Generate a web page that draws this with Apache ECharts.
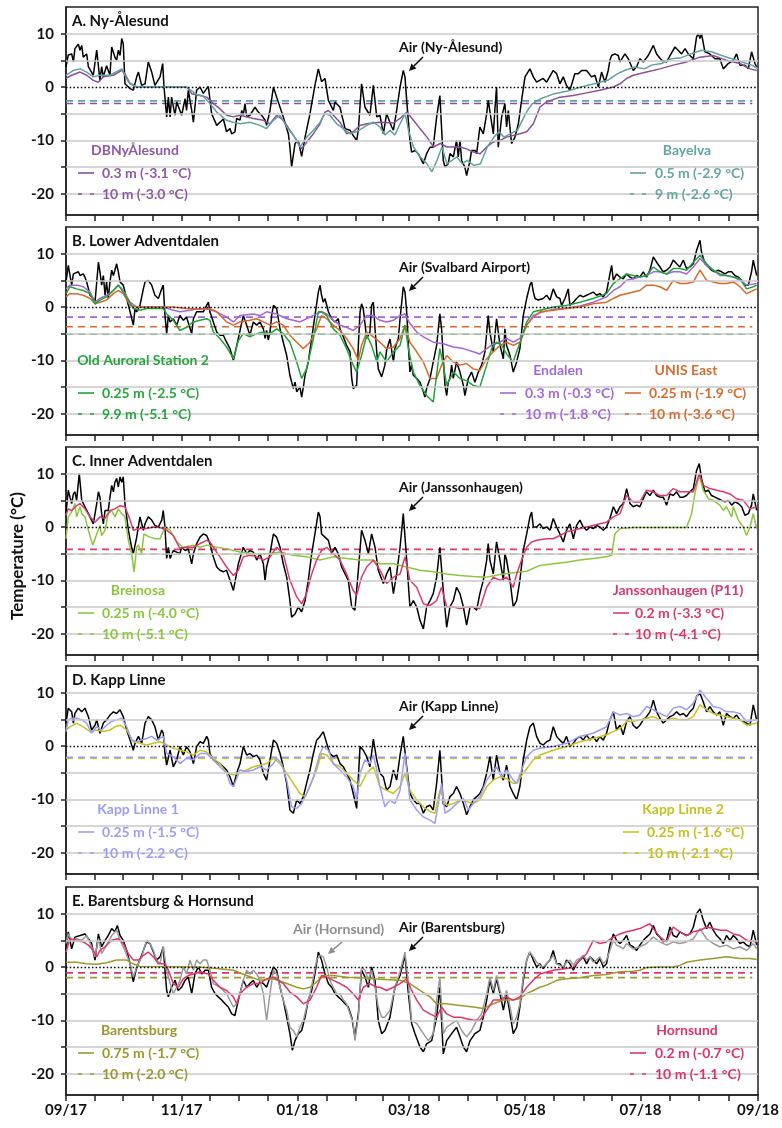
<!DOCTYPE html>
<html><head><meta charset="utf-8">
<script src="https://cdn.jsdelivr.net/npm/echarts@6/dist/echarts.min.js"></script>
<style>html,body{margin:0;padding:0;background:#fff}#c{width:782px;height:1128px}</style>
</head><body><div id="c"></div><script>
// ---------- axis data (days since 2017-09-01) ----------
const X_TICK_DAYS = [0,15,30,45.5,61,76,91,106.5,122,137.5,153,167,181,196.5,212,227,242,257.5,273,288,303,318.5,334,349.5,365];
const X_LABEL_DAYS = [0,61,122,181,242,303,365];
const X_LABELS = ['09/17','11/17','01/18','03/18','05/18','07/18','09/18'];
const Y_TICKS = [-20,-15,-10,-5,0,5,10];
const Y_LABELS = [-20,-10,0,10];
const GRID_LINES = [-20,-15,-10,-5,5,10];

// ---------- Panel A: Ny-Ålesund ----------
const airNyAlesund = [[0,3.8],[1.2,6.0],[3.0,6.2],[3.9,4.7],[4.7,7.2],[6.5,8.0],[7.4,6.9],[8.3,7.8],[9.1,5.6],[10.9,6.2],[11.8,3.8],[14.4,2.2],[16.2,6.9],[17.9,1.2],[18.8,3.8],[19.7,1.9],[21.4,4.0],[23.2,2.2],[24.1,7.5],[25.8,5.6],[26.7,5.0],[27.6,6.9],[28.5,5.9],[29.4,9.1],[30.2,8.1],[31.1,0.6],[33.8,-0.3],[35.5,-0.6],[37.3,1.9],[38.2,2.8],[39.9,0.3],[41.7,0.6],[43.4,4.7],[45.2,2.8],[46.9,0.3],[49.6,1.9],[51.0,4.4],[51.7,0],[53.1,-5.6],[54.0,-1.9],[54.9,-5.6],[55.7,-1.9],[57.5,-5.3],[58.4,-2.8],[61.0,-5.3],[62.8,-2.2],[63.6,-4.4],[64.5,-0.6],[66.3,-4.4],[67.2,-6.6],[68.9,-0.6],[70.7,0],[72.4,-1.2],[74.2,-0.3],[75.1,0.1],[76.8,-5],[79.5,-7.2],[81.2,-6.6],[83.0,-6],[84.7,-8.4],[86.5,-7.8],[87.4,-8.8],[89.1,-8.4],[90.0,-5.9],[91.8,-6.2],[92.7,-4.4],[93.5,-5.3],[94.4,-3.1],[95.3,-5.6],[97.0,-5.3],[99.7,-3.8],[101.4,-4.7],[103.2,-5.3],[105.0,-6.2],[105.8,-7.2],[107.6,-4.4],[109.4,0],[111.1,-1.9],[114.6,-5.6],[117.3,-8.8],[118.1,-11.3],[119.0,-15],[119.9,-15],[120.8,-10.6],[122.5,-10],[124.3,-13],[126.1,-9.4],[128.7,-5],[131.3,0.3],[133.1,3.4],[134.8,1.0],[136.6,1.6],[138.4,-2.5],[141.0,-4.4],[141.9,-2.8],[144.5,-3.8],[147.2,-7.8],[149.8,-8.1],[151.5,-9.1],[153.3,-10],[154.2,-8.1],[155.9,0.6],[157.7,-3.8],[160.3,-5.3],[162.1,0.3],[163.9,-5.6],[165.6,-5.3],[167.4,-8.8],[169.1,-5],[171.8,-7.5],[172.7,-8.1],[174.4,-4.4],[176.2,0],[177.9,3.1],[178.8,1.9],[179.7,-2.5],[181.4,-10],[182.3,-12.2],[184.1,-11.9],[185.8,-12.5],[188.5,-14.4],[190.2,-12.5],[192.0,-11.3],[193.7,-11.3],[195.5,-5.6],[197.2,-1.6],[199.0,-13.8],[199.9,-15],[201.6,-14.4],[202.5,-12.5],[204.3,-13.1],[206.0,-10],[206.9,-13.1],[207.8,-10],[208.7,-13.8],[210.4,-15],[211.3,-16.6],[213.1,-13.8],[213.9,-11.9],[215.7,-11.9],[216.6,-12.5],[218.3,-7.5],[220.1,-8.8],[221.9,-5],[222.7,-2.5],[225.4,-8.8],[226.3,-3.8],[227.1,0],[228.0,-11.3],[229.8,-5.6],[231.5,-3.1],[232.4,-7.5],[233.3,-4.4],[235.0,-10.6],[236.8,-9.4],[238.6,-6.9],[240.3,-2.5],[242.1,1.9],[244.7,3.4],[246.5,1.9],[248.2,0.9],[251.7,1.6],[253.5,0.9],[257.0,3.1],[258.8,2.5],[260.5,0.6],[262.3,1.9],[264.0,0.3],[265.8,-0.6],[268.4,2.5],[270.2,2.5],[272.0,3.1],[274.6,3.1],[277.2,1.9],[279.0,2.2],[280.8,0],[282.5,2.8],[284.3,0.9],[286.0,3.1],[286.9,5.0],[287.8,5.9],[289.5,6.2],[291.3,5.9],[292.2,4.7],[294.8,6.2],[296.6,5.3],[299.2,3.1],[301.0,3.8],[302.7,5.3],[304.5,4.7],[307.1,5.9],[309.8,7.8],[311.5,6.2],[314.2,5.0],[316.8,4.7],[318.6,5.9],[321.2,7.5],[322.9,6.9],[324.7,6.2],[326.5,7.2],[328.2,6.2],[330.9,5.3],[332.6,9.4],[333.5,10],[334.4,9.1],[335.2,10],[337.0,6.6],[339.6,6.2],[342.3,5.3],[344.9,5.3],[346.7,3.4],[349.3,4.4],[352.0,5.0],[353.7,6.2],[355.5,4.1],[358.1,4.1],[359.9,3.4],[361.6,6.6],[363.4,4.4],[364.3,3.8]];
const dbNy03 = [[0,1.6],[3,2.2],[7.4,2.8],[10.9,2.2],[14.4,1.25],[17,0.9],[19.7,1.9],[25,2.2],[29.4,3.1],[31.1,2.5],[33.8,0.6],[37.3,0],[41,0],[51.3,0],[63.6,0],[66.3,-1.25],[70.7,-1.6],[74.2,-1.9],[77.7,-3.1],[81.2,-4.1],[84.7,-5.3],[88.2,-5.6],[91.8,-5.3],[95.3,-5.6],[98.8,-5.9],[104.1,-6.25],[107.6,-6.9],[111.1,-5.3],[114.7,-6.25],[118.1,-8.1],[121.7,-10],[124.3,-11.6],[127,-10.3],[130.5,-8.75],[134,-6.9],[136.6,-4.7],[138.4,-4.4],[141,-5.3],[144.5,-6.6],[148,-8.75],[151.5,-8.4],[155.1,-7.2],[158.6,-6.9],[165.6,-6.6],[172.7,-6.75],[176.2,-5.9],[179.8,-4.7],[183.3,-6.25],[186.7,-7.8],[190.4,-9.4],[193.9,-11.25],[197.4,-10.6],[200.9,-11.25],[207.8,-11.25],[211.3,-11.6],[214.9,-12.2],[218.4,-12.5],[221.9,-11.25],[225.4,-10.3],[228.9,-10],[232.4,-9.4],[239.5,-8.75],[243,-8.4],[246.5,-6.9],[250,-3.75],[253.5,-2.8],[260.5,-1.9],[267.6,-1.6],[274.6,-1.1],[281.6,-0.6],[288.7,0],[292.2,0.6],[295.7,1.6],[299.2,2.2],[306.2,2.8],[313.3,3.4],[320.3,4.1],[327.3,4.7],[334.3,5.6],[341.4,5.9],[348.4,5.0],[355.4,4.4],[360.8,3.4],[364.3,3.1]];
const bayelva05 = [[0,2.2],[3.9,3.1],[7.4,3.4],[10.9,2.8],[14.4,1.9],[17.9,2.2],[23.2,2.2],[29.4,3.4],[32.9,0.9],[37.3,0],[51.3,0],[63.6,0],[65.4,-0.5],[68.9,-1.4],[72.4,-1.75],[75.9,-3.1],[79.5,-4.7],[84.7,-6.25],[88.2,-6.6],[91.8,-6.9],[97,-6.6],[102.3,-7.2],[105.8,-7.8],[109.4,-6.25],[112.9,-5.3],[116.4,-7.5],[119.9,-9],[123.4,-11.25],[127,-9.4],[130.5,-8.1],[134,-6.6],[136.6,-5],[139.2,-5.3],[142.8,-6.9],[146.3,-7.8],[149.8,-8.75],[153.3,-8.4],[158.6,-7.2],[162.1,-6.6],[165.6,-7.5],[168.3,-9],[170.9,-8.1],[173.5,-9],[176.2,-6.9],[178.9,-5],[180.6,-8.1],[183.3,-11.25],[186.7,-13.1],[190.4,-14.4],[193,-15.9],[195.7,-13.75],[198.3,-11.25],[200.9,-14.4],[203.6,-13.75],[206.2,-13.1],[208.9,-14.4],[211.6,-13.75],[215.1,-14.7],[218.6,-14.4],[222.2,-11.25],[225.7,-9.4],[228.4,-8.4],[231,-9.4],[234.6,-8.75],[238.1,-8.1],[240.7,-6.25],[243.4,-4.4],[246,-3.1],[250.4,-2.2],[257.5,-1.25],[264.6,-0.75],[271.6,0],[278.7,0.6],[285.7,1.25],[291,2.5],[294.6,3.1],[299.9,3.75],[305.2,3.4],[308.8,4.1],[314.1,4.4],[319.3,5.3],[324.6,5.5],[329.9,6.25],[335.2,6.9],[340.5,6.6],[345.8,5.9],[351.1,5.3],[356.4,4.7],[361.7,4.1],[365,3.4]];
const dbNy10 = -3.1;
const bayelva9 = -2.6;

// ---------- Panel B: Lower Adventdalen ----------
const airSvalbard = [[0,4.7],[1.2,7.8],[2.1,7.5],[3.0,4.1],[3.9,6.2],[4.7,5.9],[6.5,6.6],[7.4,5.9],[9.1,6.2],[10.0,5.6],[10.9,4.7],[12.7,2.2],[14.4,1.6],[15.3,0.9],[17.1,8.4],[17.9,6.6],[18.8,4.1],[19.7,5.9],[20.6,2.2],[21.4,4.7],[22.3,1.6],[23.2,4.7],[24.1,6.9],[25.0,5.9],[25.8,6.9],[26.7,8.1],[27.6,6.6],[28.5,4.7],[30.2,4.1],[32.0,1.6],[33.8,-0.9],[35.5,-3.4],[36.4,-0.3],[37.3,-0.9],[39.0,0.3],[40.8,3.4],[41.7,4.7],[43.4,5.0],[45.2,4.1],[46.9,2.2],[48.7,1.6],[50.5,3.4],[51.3,4.1],[52.2,-1.6],[53.1,-5],[54.0,-1.6],[54.9,-2.8],[56.6,-2.2],[58.4,-3.4],[60.1,-1.6],[61.9,-2.5],[63.6,-1.9],[66.3,-5],[67.2,-2.2],[68.9,-0.9],[72.4,-0.9],[74.2,0.3],[75.1,0.9],[75.9,-0.9],[77.7,-2.8],[79.5,-4.7],[81.2,-5.3],[83.0,-5.3],[84.7,-6.6],[86.5,-7.8],[88.3,-10],[89.1,-10],[90.9,-5.9],[93.5,-1.6],[95.3,-3.4],[97.0,-5.3],[98.8,-2.8],[100.6,-3.4],[102.3,-2.8],[104.1,-4.1],[105.0,-5.9],[105.8,-4.4],[106.7,-6.2],[107.6,-4.7],[108.5,-1.6],[109.4,0.3],[111.1,-0.3],[112.9,-4.1],[114.6,-6.6],[116.4,-9.1],[118.1,-12.8],[119.9,-15.3],[120.8,-14.1],[121.7,-15.9],[123.4,-15],[124.3,-16.9],[125.2,-15],[126.1,-12.8],[127.8,-10.3],[129.6,-5.9],[131.3,-1.6],[133.1,2.8],[134.0,4.1],[134.8,2.2],[135.7,0.9],[136.6,1.6],[138.4,-0.9],[140.1,-2.2],[141.9,-2.8],[143.6,-2.2],[144.5,-4.1],[146.3,-5.6],[148.0,-7.2],[149.8,-8.4],[150.7,-13.4],[151.5,-15.3],[152.4,-15.6],[153.3,-14.7],[154.2,-7.2],[155.1,-0.9],[155.9,0.6],[156.8,-0.3],[158.6,-5.9],[160.3,-4.7],[161.2,0.3],[162.1,0.9],[163.0,-4.1],[163.9,-8.4],[164.7,-11.6],[166.5,-13.1],[168.2,-10.9],[169.1,-8.1],[170.9,-6],[172.7,-10.3],[173.5,-7.8],[175.3,-5.9],[176.2,-2.2],[177.9,3.8],[178.8,2.8],[179.7,-0.9],[180.6,-7.2],[181.4,-12.2],[182.3,-10.9],[183.2,-12.8],[185.0,-13.4],[186.7,-14.1],[188.5,-15.9],[189.3,-16.9],[190.2,-15.3],[192.0,-13.4],[193.7,-10.3],[195.5,-7.2],[197.2,-1.3],[198.1,-4.1],[199.0,-9.7],[199.9,-14.7],[200.8,-16.6],[201.6,-14.1],[202.5,-13.4],[203.4,-10.9],[204.3,-13.4],[206.0,-10.3],[207.8,-12.2],[209.6,-14.7],[210.4,-16.6],[211.3,-16.9],[212.2,-13.4],[213.9,-12.2],[215.7,-14.1],[217.5,-12.2],[219.2,-10.9],[221.0,-8.4],[222.7,-1.6],[223.6,-4.7],[225.4,-8.4],[227.1,-2.2],[228.0,-4.7],[228.9,-7.2],[230.7,-9.7],[231.5,-4.1],[232.4,-7.2],[234.2,-9.1],[235.9,-12.2],[237.7,-10.3],[239.4,-7.8],[241.2,-1.6],[243.0,1.6],[244.7,4.1],[245.6,4.7],[246.5,2.8],[247.4,1.6],[249.1,1.3],[251.7,1.6],[253.5,2.2],[255.3,1.3],[257.0,3.4],[258.8,1.9],[260.5,1.6],[261.4,0.3],[263.2,1.6],[264.9,3.4],[265.8,0.3],[267.6,0.9],[269.3,1.6],[271.1,2.2],[272.8,1.9],[274.6,2.2],[276.4,2.5],[278.1,2.8],[279.9,2.2],[281.6,2.5],[283.4,1.9],[285.1,2.8],[286.9,6.2],[287.8,7.8],[288.7,5.0],[290.4,6.2],[292.2,5.6],[293.9,5.3],[295.7,6.2],[297.5,5.6],[299.2,5.3],[301.0,5.9],[302.7,5.6],[304.5,6.6],[306.2,5.6],[308.0,6.9],[309.8,9.4],[311.5,8.4],[313.3,7.5],[315.0,6.6],[316.8,6.9],[318.6,7.5],[320.3,8.8],[322.1,8.1],[323.8,7.5],[325.6,8.8],[327.3,7.2],[329.1,7.5],[330.9,8.1],[332.6,10.6],[334.4,12.5],[335.2,10.3],[337.0,8.1],[338.8,7.5],[340.5,6.9],[342.3,6.6],[344.0,6.9],[345.8,6.6],[347.6,6.2],[349.3,6.6],[351.1,6.6],[352.8,5.9],[354.6,5.6],[356.4,5.0],[358.1,4.1],[359.9,4.1],[361.6,6.6],[362.5,8.8],[364.3,5.9]];
const oas025 = [[0,2.5],[2.1,3.8],[5.6,3.4],[9.1,3.1],[12.7,2.5],[15.3,0.6],[17.9,1.3],[21.4,1.9],[25.0,3.1],[27.6,4.1],[30.2,2.8],[32.9,1.3],[35.5,-0.3],[39.0,-0.6],[42.5,-0.3],[51.3,-0.3],[53.1,-1.3],[56.6,-2.5],[60.1,-4.4],[63.6,-3.8],[67.2,-2.8],[70.7,-2.5],[74.2,-2.2],[75.9,-2.5],[77.7,-4.7],[81.2,-5.9],[84.7,-7.5],[88.3,-9.7],[90.9,-6.3],[93.5,-5],[97.0,-5.6],[100.6,-5],[104.1,-4.7],[107.6,-5],[111.1,-4.1],[114.6,-5],[118.1,-6.6],[121.7,-10.3],[124.3,-13.4],[126.9,-11.6],[130.5,-5.9],[133.1,-0.9],[134.8,-0.9],[137.5,-1.6],[141.0,-4.1],[144.5,-5.3],[148.0,-7.8],[151.5,-10.9],[153.3,-12.2],[155.9,-9.1],[158.6,-5.3],[161.2,-7.2],[163.9,-10.3],[165.6,-8.4],[169.1,-10.3],[172.7,-8.4],[176.2,-7.2],[178.8,-3.4],[180.6,-7.8],[183.2,-12.2],[186.7,-14.7],[190.2,-16.6],[193.7,-17.8],[197.2,-7.8],[199.0,-10.9],[200.8,-14.7],[204.3,-12.2],[207.8,-13.4],[211.3,-13.8],[214.8,-14.7],[218.3,-15],[221.9,-10.9],[224.5,-7.8],[227.1,-6.6],[229.8,-7.2],[232.4,-8.8],[235.9,-10.3],[237.7,-8.4],[240.3,-5.9],[243.0,-2.8],[246.5,-0.9],[250.0,-0.6],[257.0,0],[264.0,0.3],[271.1,0.9],[278.1,1.6],[285.1,2.5],[288.7,4.4],[292.2,5.3],[295.7,6.2],[299.2,5.9],[302.7,5.6],[306.2,5.9],[309.8,7.5],[313.3,6.6],[316.8,6.2],[320.3,7.2],[323.8,7.2],[327.3,6.9],[330.9,8.4],[334.4,9.7],[337.9,8.1],[341.4,6.9],[344.9,6.2],[348.4,5.9],[352.0,5.6],[355.5,5.3],[359.0,3.4],[362.5,3.8],[364.3,4.1]];
const endalen03 = [[0,3.4],[2.1,4.1],[5.6,4.1],[9.1,3.8],[12.7,2.8],[15.3,0.9],[17.9,1.6],[21.4,2.2],[25.0,3.1],[27.6,4.1],[30.2,3.1],[33.8,0.9],[37.3,0],[51.3,0],[56.6,-0.6],[60.1,-0.9],[65.4,-0.6],[70.7,-0.3],[75.1,-0.4],[79.5,-0.9],[84.7,-1.9],[88.3,-2.8],[91.8,-1.6],[98.8,-1.3],[102.3,-1.6],[105.8,-0.9],[111.1,-1.3],[116.4,-2.2],[119.9,-2.5],[123.4,-2.8],[126.9,-2.2],[132.2,-1.3],[134.8,-0.9],[137.5,-1.3],[141.0,-2.5],[144.5,-3.4],[148.0,-3.8],[151.5,-4.4],[155.1,-3.4],[158.6,-1.6],[162.1,-1.6],[165.6,-2.5],[169.1,-2.8],[172.7,-2.5],[176.2,-1.6],[178.8,-1.3],[181.4,-3.1],[185.0,-4.7],[188.5,-5.6],[193.7,-6.6],[199.0,-6.9],[204.3,-7.5],[209.6,-7.8],[214.8,-8.4],[218.3,-8.8],[221.9,-7.8],[225.4,-6.9],[228.9,-6.6],[232.4,-5.9],[235.9,-6.6],[239.4,-5.9],[243.0,-3.4],[246.5,-1.6],[250.0,-1.1],[257.0,-0.4],[264.0,-0.2],[271.1,0.2],[278.1,0.9],[285.1,1.9],[288.7,3.1],[292.2,3.8],[295.7,5],[299.2,5.3],[302.7,5.6],[306.2,5.9],[309.8,6.6],[313.3,6.6],[316.8,6.2],[320.3,6.6],[323.8,6.6],[327.3,6.2],[330.9,7.5],[334.4,9.1],[337.9,7.8],[341.4,6.9],[344.9,5.9],[348.4,5.9],[352.0,5.6],[355.5,5.0],[359.0,4.1],[364.3,4.4]];
const unis025 = [[0,1.9],[2.1,2.5],[5.6,2.5],[9.1,2.2],[12.7,1.6],[15.3,0.6],[17.9,0.9],[21.4,1.3],[25.0,2.5],[27.6,3.1],[30.2,2.5],[33.8,0.3],[37.3,0],[56.6,0],[63.6,-0.3],[70.7,-0.4],[75.9,-0.3],[79.5,-0.9],[84.7,-2.8],[88.3,-3.4],[91.8,-2.8],[97.0,-2.5],[100.6,-2.2],[104.1,-2.8],[107.6,-3.4],[111.1,-2.8],[114.6,-3.4],[118.1,-5.3],[121.7,-6.6],[125.2,-7.8],[128.7,-6.6],[132.2,-4.1],[134.8,-1.6],[137.5,-2.2],[141.0,-3.4],[144.5,-4.4],[148.0,-5.9],[151.5,-7.8],[154.2,-10],[155.9,-7.2],[158.6,-4.7],[162.1,-5.6],[165.6,-6.6],[169.1,-7.8],[172.7,-7.5],[176.2,-5.9],[178.8,-3.4],[181.4,-6.6],[185.0,-8.4],[188.5,-10.3],[192.0,-13.4],[195.5,-13.4],[198.1,-10.9],[200.8,-9.1],[204.3,-10.3],[207.8,-10.9],[211.3,-10.6],[214.8,-11.6],[218.3,-11.9],[221.9,-9.7],[225.4,-8.4],[228.9,-7.2],[232.4,-6.6],[235.9,-7.2],[239.4,-6.6],[243.0,-3.4],[246.5,-1.9],[250.0,-0.9],[257.0,-0.6],[264.0,-0.3],[271.1,0],[278.1,0.6],[285.1,0.9],[288.7,1.6],[292.2,2.2],[295.7,2.5],[299.2,2.8],[302.7,3.1],[306.2,4.1],[309.8,4.1],[313.3,3.8],[316.8,3.1],[320.3,5],[323.8,4.4],[327.3,4.4],[330.9,4.7],[334.4,6.9],[337.9,5],[341.4,4.7],[344.9,4.4],[348.4,4.4],[352.0,4.7],[355.5,3.8],[359.0,2.5],[364.3,3.4]];
const endalen10 = -1.9;
const unis10 = -3.7;
const oas99 = -5.1;

// ---------- Panel C: Inner Adventdalen ----------
const airJansson = [[0,2.5],[1.2,6.9],[2.1,5.6],[3.0,4.4],[3.9,6.2],[4.7,6.6],[5.6,5],[7.0,10],[8.3,5],[10.0,3.8],[11.8,2.5],[14.4,0.6],[16.2,4.4],[17.1,6.6],[17.9,5.6],[18.8,2.5],[19.7,0.6],[20.6,3.1],[22.3,3.1],[23.2,5.6],[24.1,7.8],[25.0,6.6],[25.8,8.4],[26.7,9.1],[27.6,7.5],[28.5,9.4],[29.4,8.4],[30.2,9.4],[31.1,4.4],[32.9,-0.6],[34.6,-3.8],[35.5,-5],[37.3,-1.9],[39.0,1.9],[40.8,-0.6],[41.7,0.6],[43.4,1.9],[45.2,1.3],[46.9,0.3],[48.7,0],[50.5,1.3],[51.3,3.1],[52.2,0],[53.1,-5.9],[54.0,-3.8],[54.9,-5.9],[56.6,-4.4],[58.4,-4.7],[60.1,-5],[61.0,-3.8],[62.8,-4.4],[64.5,-4.1],[66.3,-6.9],[67.2,-5],[68.9,-3.1],[70.7,-1.9],[72.4,-1.3],[74.2,-1.6],[75.9,-3.1],[77.7,-5.6],[79.5,-7.5],[81.2,-8.1],[83.0,-8.4],[84.7,-8.1],[86.5,-10],[88.3,-11.9],[89.1,-11.6],[90.9,-6.9],[93.5,-3.8],[95.3,-5],[97.0,-4.4],[98.8,-4.7],[100.6,-6.2],[102.3,-5],[104.1,-6.9],[105.0,-10],[105.8,-7.5],[107.6,-5],[109.4,-1.3],[111.1,-1.9],[112.9,-3.8],[114.6,-6.9],[116.4,-9.4],[118.1,-13.8],[119.0,-16.9],[120.8,-16.3],[122.5,-15],[124.3,-15.9],[126.1,-13.8],[127.8,-10],[129.6,-5],[131.3,-1.3],[133.1,2.8],[134.0,1.9],[134.8,-1.3],[136.6,-1.9],[138.4,-2.5],[140.1,-5],[141.9,-3.8],[143.6,-5],[145.4,-7.5],[147.2,-8.8],[148.9,-10],[150.7,-15],[152.4,-15.6],[154.2,-8.1],[155.9,-0.6],[157.7,-2.5],[159.5,-5],[161.2,-1.3],[163.0,-3.8],[164.7,-8.1],[167.4,-10.6],[169.1,-8.8],[170.9,-7.5],[172.7,-12.5],[174.4,-8.8],[176.2,-3.8],[177.9,2.5],[179.7,-6.2],[181.4,-15],[183.2,-13.8],[185.0,-15],[186.7,-17.5],[188.5,-19.1],[190.2,-15],[192.0,-13.8],[193.7,-12.5],[195.5,-9.4],[197.2,-3.8],[199.0,-11.9],[200.8,-18.8],[202.5,-15],[204.3,-13.8],[206.0,-11.3],[207.8,-12.5],[209.6,-15],[211.3,-18.4],[213.1,-15],[214.8,-15],[216.6,-15.6],[218.3,-12.5],[220.1,-10],[221.9,-6.2],[222.7,-3.1],[223.6,-6.2],[225.4,-8.8],[227.1,-2.8],[228.9,-6.2],[230.7,-10],[231.5,-5],[232.4,-6.2],[234.2,-10],[235.9,-15],[237.7,-13.8],[239.4,-10],[241.2,-4.4],[243.0,-1.3],[244.7,1.9],[245.6,2.8],[246.5,0],[248.2,0],[250.0,0.6],[251.7,-0.3],[253.5,0],[255.3,-0.6],[257.0,1.6],[258.8,0],[260.5,-1.3],[262.3,-2.8],[264.0,-0.6],[265.8,0.6],[267.6,-2.2],[269.3,0.3],[271.1,1.3],[272.8,0],[274.6,-0.6],[276.4,0],[278.1,-0.3],[279.9,0.3],[281.6,0],[283.4,-0.6],[285.1,0],[286.9,1.6],[288.7,3.8],[290.4,2.5],[292.2,3.8],[293.9,4.4],[295.7,7.2],[297.5,4.4],[299.2,3.8],[301.0,4.1],[302.7,3.8],[304.5,5.3],[306.2,6.6],[308.0,5.9],[309.8,6.9],[311.5,5.9],[313.3,5.6],[315.0,5.6],[316.8,4.1],[318.6,6.2],[320.3,5.9],[322.1,6.6],[323.8,5.6],[325.6,5.6],[327.3,5.9],[329.1,6.6],[330.9,7.2],[332.6,10.6],[334.0,11.9],[335.2,9.1],[337.0,6.6],[338.8,6.9],[340.5,5.9],[342.3,5.6],[344.0,5.3],[345.8,5],[347.6,4.7],[349.3,5],[351.1,4.1],[352.8,4.7],[354.6,4.4],[356.4,3.8],[358.1,2.2],[359.9,2.5],[361.6,4.1],[362.5,6.2],[364.3,3.1]];
const jansson02 = [[0,2.2],[1.2,3.4],[3.0,3.1],[5.6,4],[7.4,4.4],[10.0,3.4],[12.7,1.9],[15.3,0.9],[17.9,1.9],[20.6,1.6],[23.2,3.1],[25.8,3.4],[28.5,4],[31.1,3.8],[33.8,1.3],[35.5,-0.6],[39.0,-0.3],[42.5,-0.3],[46.1,0],[49.6,-0.1],[53.1,-0.6],[56.6,-1.6],[60.1,-4],[63.6,-3.8],[67.2,-3.8],[70.7,-3.1],[74.2,-2.5],[75.9,-2.8],[77.7,-3.8],[81.2,-5.6],[84.7,-7.5],[88.3,-9.1],[90.9,-8.1],[93.5,-5.6],[97.0,-5.3],[100.6,-5.6],[104.1,-6.2],[107.6,-5.6],[111.1,-3.8],[114.6,-5],[118.1,-10],[121.7,-13.1],[124.3,-14.4],[126.9,-12.5],[129.6,-8.8],[132.2,-6.2],[134.8,-4.4],[137.5,-3.8],[141.0,-5],[144.5,-6.2],[148.0,-8.8],[151.5,-11.9],[153.3,-12.8],[155.9,-9.4],[158.6,-7.5],[162.1,-6.2],[165.6,-8.1],[169.1,-10.6],[172.7,-9.4],[176.2,-8.8],[178.8,-5.6],[181.4,-10],[185.0,-11.3],[188.5,-14.4],[192.0,-14.7],[195.5,-13.8],[198.1,-11.3],[200.8,-15],[204.3,-15],[207.8,-15.3],[211.3,-15],[214.8,-15],[218.3,-15.3],[221.9,-11.3],[225.4,-9.4],[228.9,-10],[232.4,-9.4],[235.9,-11.3],[237.7,-8.8],[240.3,-6.2],[243.0,-3.8],[245.6,-2.8],[248.2,-2.5],[253.5,-2.2],[257.0,-2.2],[260.5,-1.6],[264.0,-0.9],[267.6,-0.6],[271.1,-0.3],[274.6,0],[278.1,0.3],[281.6,0.6],[285.1,0.9],[288.7,1.9],[292.2,2.5],[295.7,5.9],[299.2,4.7],[302.7,4.7],[306.2,6.9],[309.8,6.6],[313.3,5.9],[316.8,5.9],[320.3,7.2],[323.8,6.6],[327.3,6.6],[330.9,6.6],[334.0,10],[336.1,7.8],[339.6,7.2],[343.2,6.9],[346.7,6.6],[350.2,6.2],[353.7,5.3],[357.2,5],[360.8,3.4],[364.3,3.8]];
const breinosa025 = [[0,-2.2],[1.2,1.9],[3.0,2.8],[4.7,4.4],[5.6,1.9],[7.4,3.8],[8.3,2.5],[10.0,1.9],[11.8,-0.6],[14.1,-3.4],[16.2,-1.3],[17.9,0.3],[18.8,-1.6],[20.6,-0.6],[22.3,2.5],[24.1,3.1],[25.8,1.9],[27.6,3.4],[29.4,2.5],[31.1,1.9],[32.9,-2.5],[34.6,-5],[35.9,-8.4],[37.3,-3.8],[38.2,-3.4],[39.9,-5],[41.1,-1.3],[42.5,-1.6],[44.3,-1.9],[46.9,-2.2],[49.6,-2.2],[52.2,0],[54.9,-0.6],[58.4,-2.8],[61.9,-3.8],[67.2,-3.4],[70.7,-3.8],[74.2,-3.4],[79.5,-3.8],[84.7,-4.1],[91.8,-4.7],[98.8,-5],[105.8,-5],[112.9,-4.7],[119.9,-5.3],[126.9,-5.6],[134.0,-6.2],[141.0,-5.6],[148.0,-5.9],[155.1,-6.2],[162.1,-6.2],[165.6,-6.9],[172.7,-6.9],[179.7,-7.5],[186.7,-8.1],[193.7,-8.4],[200.8,-8.8],[207.8,-9.1],[214.8,-9.3],[221.9,-9.4],[228.9,-8.9],[235.9,-8.6],[243.0,-8.3],[250.0,-7.2],[257.0,-6.9],[264.0,-6.6],[271.1,-6.2],[278.1,-5.9],[285.1,-5.6],[287.8,-5.3],[289.5,-1.3],[292.2,-0.3],[299.2,-0.1],[320.3,-0.1],[327.3,-0.1],[330.0,2.5],[331.7,6.2],[334.0,9.7],[336.1,6.9],[338.8,5.3],[341.4,5],[344.9,4.1],[346.7,3.1],[348.4,3.8],[351.1,1.9],[352.0,3.8],[354.6,1.3],[357.2,0],[359.0,-1.6],[360.8,0],[362.5,2.5],[364.3,-0.3]];
const jansson10 = -4.2;
const breinosa10 = -5.1;

// ---------- Panel D: Kapp Linne ----------
const airKappLinne = [[0,4.3],[1.2,7.1],[3.0,6.4],[3.9,4.3],[4.7,6.1],[6.5,7.1],[8.3,6.4],[10.0,7.1],[11.8,5.5],[13.5,3],[15.3,3.9],[16.2,4.9],[17.9,2.4],[19.7,4.3],[21.4,4.9],[23.2,5.8],[25.0,6.4],[26.7,6.1],[28.5,6.8],[30.2,5.5],[32.0,3],[33.8,1.1],[35.5,-0.8],[36.4,0.5],[38.2,1.8],[39.9,0.5],[41.7,4.3],[43.4,5.5],[45.2,4.9],[46.9,3.6],[48.7,1.1],[50.5,3],[51.3,2.4],[52.2,-1.4],[53.1,-3.6],[54.9,-0.8],[56.6,-3.9],[58.4,-2.6],[60.1,-0.1],[61.9,-1.7],[63.6,-0.1],[65.4,-1.1],[67.2,-3.3],[68.9,-0.1],[70.7,0.8],[72.4,0.5],[74.2,1.8],[75.1,1.1],[75.9,-1.4],[77.7,-2.6],[81.2,-3.3],[84.7,-4.5],[86.5,-5.8],[88.3,-7.6],[90.0,-5.1],[91.8,-3.3],[93.5,-0.1],[95.3,-1.7],[97.0,-1.4],[98.8,-2],[100.6,-1.7],[102.3,-2.6],[104.1,-5.1],[105.8,-6.4],[107.6,-2.6],[109.4,1.1],[111.1,0.5],[112.9,-1.4],[114.6,-3.9],[116.4,-7],[118.1,-12],[119.9,-12.6],[121.7,-10.1],[123.4,-10.8],[125.2,-9.5],[126.9,-7],[128.7,-4.5],[130.5,-1.4],[132.2,1.1],[134.0,1.8],[135.7,2.7],[137.5,0.5],[139.2,-1.4],[141.0,-2],[142.8,-1.7],[144.5,-3.3],[146.3,-3.9],[148.0,-5.1],[149.8,-6.4],[151.5,-8.9],[153.3,-11.7],[155.1,-0.1],[156.8,-0.8],[158.6,-2],[160.3,-3.9],[162.1,1.3],[163.9,-2.6],[165.6,-5.1],[167.4,-5.8],[169.1,-8.3],[170.9,-7.6],[172.7,-4.5],[174.4,-6.4],[176.2,-1.7],[177.9,1.8],[179.7,-3.9],[181.4,-8.9],[183.2,-10.1],[185.0,-10.8],[186.7,-10.8],[188.5,-12.6],[190.2,-11.4],[192.0,-11.1],[193.7,-12],[195.5,-7],[197.2,-0.8],[199.0,-10.8],[200.8,-11.4],[202.5,-9.5],[204.3,-8.9],[206.0,-7.6],[207.8,-8.9],[209.6,-10.8],[211.3,-12.9],[213.1,-11.4],[214.8,-10.1],[216.6,-9.5],[218.3,-8.9],[220.1,-7.6],[221.9,-5.1],[223.6,-2],[225.4,-6.4],[227.1,-1.7],[228.9,-5.1],[230.7,-6.4],[232.4,-3.6],[234.2,-7.6],[235.9,-8.9],[237.7,-10.1],[239.4,-7.6],[241.2,-2.6],[243.0,1.1],[244.7,3.6],[246.5,4.3],[248.2,1.8],[250.0,0.5],[251.7,0.2],[253.5,0.8],[255.3,1.1],[257.0,3.6],[258.8,1.8],[260.5,1.1],[262.3,0.5],[264.0,1.8],[265.8,-0.1],[267.6,0.5],[269.3,1.4],[271.1,1.8],[272.8,1.1],[274.6,2.1],[276.4,1.1],[278.1,1.8],[279.9,0.8],[281.6,1.8],[283.4,1.1],[285.1,2.4],[286.9,4.9],[288.7,6.4],[290.4,3],[292.2,3.9],[293.9,2.1],[295.7,4.6],[297.5,5.5],[299.2,3.9],[301.0,3.3],[302.7,3.9],[304.5,4.9],[306.2,5.5],[308.0,6.4],[309.8,8.6],[311.5,6.4],[313.3,5.2],[315.0,4.3],[316.8,4.9],[318.6,5.5],[320.3,5.8],[322.1,6.4],[323.8,5.8],[325.6,6.1],[327.3,5.5],[329.1,6.4],[330.9,7.1],[332.6,9.3],[334.4,9.9],[336.1,8.3],[337.9,6.4],[339.6,7.4],[341.4,6.4],[343.2,5.8],[344.9,6.4],[346.7,3.9],[348.4,6.1],[350.2,5.5],[352.0,5.2],[353.7,5.8],[355.5,4.9],[357.2,4.6],[359.0,4.3],[360.8,3.9],[362.5,7.7],[364.3,4.9]];
const kappLinne1_025 = [[0,2.7],[1.2,4.9],[3.0,5.2],[5.6,5.2],[8.3,4.9],[10.9,4.3],[13.5,2.4],[16.2,3.6],[18.8,3],[21.4,3.9],[24.1,4.6],[26.7,4.9],[29.4,5.2],[32.0,3.6],[34.6,1.1],[37.3,0.8],[39.9,1.1],[42.5,1.4],[45.2,1.8],[47.8,1.1],[51.3,1.8],[53.1,-1.4],[56.6,-2],[60.1,-3.3],[63.6,-2.3],[67.2,-2.6],[70.7,-1.4],[74.2,-1.4],[77.7,-2.6],[81.2,-3.9],[84.7,-5.1],[86.5,-7],[88.3,-7.6],[91.8,-4.5],[95.3,-4.8],[98.8,-4.5],[102.3,-3.9],[105.8,-4.5],[109.4,-3.3],[111.1,-2.3],[113.7,-3.3],[116.4,-6.4],[119.0,-11.4],[121.7,-11.7],[124.3,-10.8],[126.9,-8.9],[130.5,-5.8],[134.0,-1.4],[135.7,-0.1],[138.4,-0.8],[141.0,-3.3],[144.5,-4.5],[148.0,-5.8],[151.5,-7.6],[153.3,-10.1],[155.1,-5.1],[157.7,-2.6],[160.3,-3.3],[162.1,-1.7],[163.9,-4.5],[165.6,-7.6],[168.2,-11.4],[170.9,-10.1],[173.5,-10.8],[176.2,-8.3],[178.8,-1.4],[181.4,-10.1],[185.0,-12],[188.5,-13.3],[192.0,-13.9],[194.6,-14.5],[196.4,-10.8],[198.1,-7],[199.9,-12.6],[202.5,-12],[206.0,-10.8],[209.6,-9.8],[212.2,-12],[214.8,-10.8],[218.3,-9.5],[221.9,-6.4],[224.5,-5.1],[227.1,-3.9],[229.8,-5.8],[232.4,-4.5],[235.9,-6.4],[237.7,-7],[240.3,-4.5],[243.0,-2],[246.5,-0.8],[250.0,-0.4],[257.0,-0.1],[264.0,0.5],[271.1,1.8],[278.1,2.4],[285.1,3.6],[288.7,6.4],[292.2,5.8],[295.7,6.1],[299.2,5.5],[302.7,5.8],[306.2,7.4],[309.8,6.8],[313.3,6.1],[316.8,5.5],[320.3,7.1],[323.8,7.4],[327.3,6.8],[330.9,8],[334.4,10.5],[337.9,8.9],[341.4,7.4],[344.9,7.1],[348.4,6.4],[352.0,6.4],[355.5,6.1],[359.0,4.6],[364.3,4.9]];
const kappLinne2_025 = [[0,3],[2.1,3.6],[5.6,4.3],[9.1,3.6],[12.7,2.7],[16.2,3],[19.7,2.7],[23.2,3],[25.8,3.6],[28.5,3.9],[32.0,3],[35.5,0.8],[39.0,0.5],[42.5,0.2],[46.1,0.5],[49.6,0.8],[53.1,0.2],[56.6,-0.4],[60.1,-0.8],[63.6,-1.1],[67.2,-1.7],[70.7,-0.8],[74.2,-1.1],[77.7,-2.3],[81.2,-3.3],[84.7,-5.1],[88.3,-5.4],[91.8,-5.1],[95.3,-4.5],[98.8,-3.9],[102.3,-3.6],[105.8,-3.3],[109.4,-2.3],[112.9,-3.3],[116.4,-5.1],[119.9,-7],[123.4,-8.9],[126.1,-9.5],[128.7,-7.6],[132.2,-4.5],[134.8,-1.4],[137.5,-1.7],[141.0,-3.3],[144.5,-3.9],[148.0,-5.1],[151.5,-6.4],[155.1,-7.6],[158.6,-5.1],[162.1,-3.9],[165.6,-7.6],[169.1,-8.3],[172.7,-8.9],[176.2,-7.6],[178.8,-5.1],[181.4,-8.3],[185.0,-10.1],[188.5,-11.4],[192.0,-12.3],[194.6,-12.6],[197.2,-8.3],[200.8,-11.1],[204.3,-10.8],[207.8,-10.1],[211.3,-10.4],[214.8,-10.8],[218.3,-10.1],[221.9,-7.6],[225.4,-6.4],[228.9,-5.8],[232.4,-6.1],[235.9,-7],[237.7,-7],[241.2,-5.1],[246.5,-2.6],[250.0,-1.7],[257.0,-0.8],[264.0,-0.1],[271.1,0.8],[278.1,1.4],[285.1,2.1],[288.7,2.7],[292.2,3.3],[295.7,4.6],[299.2,4.6],[302.7,4.9],[306.2,5.2],[309.8,5.5],[313.3,4.9],[316.8,4.9],[320.3,5.2],[323.8,4.9],[327.3,4.9],[330.9,5.5],[334.4,7.7],[337.9,6.8],[341.4,6.1],[344.9,5.8],[348.4,5.5],[352.0,5.2],[355.5,4.9],[359.0,3.9],[364.3,4.3]];
const kappLinne1_10 = -2.1;
const kappLinne2_10 = -2.3;

// ---------- Panel E: Barentsburg & Hornsund ----------
const airBarentsburg = [[0,3.1],[1.2,6.6],[3.0,3.4],[4.7,5.6],[7.4,5.9],[10.0,6.2],[11.8,5.3],[13.5,4.4],[15.3,1.3],[17.1,6.2],[18.8,3.8],[20.6,5],[22.3,5.9],[24.1,7.2],[25.8,6.6],[27.1,7.8],[28.5,5.9],[30.2,5],[32.0,3.1],[33.8,0.6],[35.5,-2.8],[37.3,0],[39.0,1.3],[40.8,3.1],[42.5,4.7],[44.3,4.4],[46.1,2.8],[47.8,1.3],[49.6,1.9],[51.3,3.8],[52.2,-0.6],[53.1,-4.4],[54.0,-5.6],[55.7,-3.8],[57.5,-2.5],[59.2,-4.4],[61.0,-3.8],[62.8,-2.5],[64.5,-1.9],[66.3,-5],[68.0,-1.3],[69.8,0],[71.6,-1.3],[73.3,-0.6],[75.1,-0.6],[76.8,-3.8],[78.6,-5],[80.3,-5.6],[82.1,-6.2],[83.9,-6.9],[85.6,-7.5],[87.4,-8.8],[89.1,-9.1],[90.9,-6.2],[93.5,-2.5],[95.3,-3.8],[97.0,-3.1],[98.8,-2.5],[100.6,-3.8],[102.3,-2.8],[104.1,-3.1],[105.8,-3.8],[107.6,-1.9],[109.4,0],[111.1,-0.6],[112.9,-3.8],[114.6,-6.2],[116.4,-9.4],[118.1,-12.5],[119.4,-15.6],[120.8,-13.8],[122.5,-12.5],[124.3,-11.9],[126.1,-9.4],[127.8,-6.2],[129.6,-4.4],[131.3,-1.3],[133.1,2.8],[134.8,1.3],[136.6,-1.3],[138.4,-3.1],[140.1,-3.8],[141.9,-5],[143.6,-5.6],[145.4,-6.2],[147.2,-6.9],[148.9,-7.5],[150.7,-9.4],[152.4,-13.1],[154.2,-8.8],[155.9,-0.6],[157.7,-1.9],[159.5,-3.8],[161.2,0],[163.0,-2.5],[164.7,-10],[166.5,-12.5],[168.2,-11.9],[170.9,-9.4],[173.5,-3.8],[176.2,-1.6],[178.8,2.2],[180.6,-5],[182.3,-10.6],[184.1,-12.5],[186.7,-15],[188.5,-15.9],[190.2,-14.4],[192.9,-13.8],[195.5,-9.4],[197.2,-3.8],[199.0,-16.3],[200.8,-13.8],[203.4,-12.5],[206.0,-11.3],[207.8,-13.1],[209.6,-15],[211.3,-15.9],[213.1,-13.8],[215.7,-12.5],[218.3,-11.9],[220.1,-9.4],[221.9,-6.2],[223.6,-2.5],[225.4,-5],[227.1,-2.2],[228.9,-5],[230.7,-8.1],[232.4,-5],[234.2,-8.8],[235.9,-12.5],[237.7,-11.3],[239.4,-7.5],[241.2,-2.5],[243.0,1.3],[244.7,2.8],[246.5,1.3],[248.2,0],[250.0,0.6],[251.7,-0.3],[253.5,0.6],[255.3,1.3],[257.0,3.1],[258.8,0.6],[260.5,0.6],[262.3,-0.3],[264.0,1.3],[265.8,0.6],[267.6,-0.6],[269.3,0.6],[271.1,1.3],[272.8,1.9],[274.6,0.6],[276.4,1.9],[278.1,1.3],[279.9,0.6],[281.6,1.6],[283.4,0],[285.1,0.6],[286.9,4.1],[288.7,6.2],[290.4,5],[292.2,4.4],[293.9,5],[295.7,5.9],[297.5,4.1],[299.2,3.8],[301.0,3.1],[302.7,4.1],[304.5,5],[306.2,5.6],[308.0,6.2],[309.8,7.8],[311.5,6.2],[313.3,5.6],[315.0,4.7],[316.8,5],[318.6,7.5],[320.3,5.9],[322.1,5.6],[323.8,6.6],[325.6,6.2],[327.3,5.9],[329.1,6.2],[330.9,7.5],[332.6,10],[334.4,10.9],[336.1,8.8],[337.9,7.2],[339.6,8.4],[341.4,6.9],[343.2,5.9],[344.9,5.3],[346.7,4.4],[348.4,5.9],[350.2,5],[352.0,5.9],[353.7,5.3],[355.5,4.4],[357.2,4.7],[359.0,4.1],[360.8,3.8],[362.5,6.9],[364.3,4.1]];
const airHornsund = [[0,4.4],[1.2,6.2],[3.0,5],[5.6,5.3],[8.3,5],[10.9,5.9],[13.5,3.8],[15.3,1.9],[17.1,5.3],[18.8,2.5],[21.4,4.1],[24.1,5.9],[26.7,6.9],[28.5,5],[31.1,3.1],[33.8,0.6],[35.5,-1.9],[37.3,0],[39.9,1.9],[42.5,5],[44.3,4.4],[46.1,3.1],[47.8,1.3],[49.6,0.6],[51.3,3.8],[53.1,-0.6],[54.9,-3.1],[56.6,-5],[58.4,-3.8],[60.1,-2.5],[61.9,0],[63.6,-1.3],[65.4,1.3],[67.2,-0.6],[68.9,1.3],[70.7,0.6],[72.4,1.3],[74.2,1.3],[75.9,-0.6],[77.7,-3.1],[81.2,-3.8],[84.7,-5],[88.3,-7.5],[90.0,-6.9],[91.8,-5],[93.5,-2.5],[95.3,-0.6],[97.0,-1.3],[98.8,-0.6],[100.6,-1.3],[102.3,-2.5],[104.1,-5],[105.8,-10],[107.6,-5],[109.4,-0.6],[111.1,-1.3],[112.9,-3.8],[114.6,-6.2],[116.4,-8.1],[118.1,-11.3],[119.9,-11.9],[121.7,-13.1],[123.4,-11.3],[125.2,-10],[126.9,-7.5],[128.7,-5],[130.5,-1.9],[132.2,1.3],[134.0,2.2],[135.7,1.9],[137.5,0],[139.2,-2.5],[141.0,-3.8],[142.8,-5],[144.5,-5],[146.3,-6.2],[148.0,-6.9],[149.8,-8.8],[151.5,-10.6],[152.4,-13.8],[154.2,-9.4],[155.9,0],[157.7,-0.6],[159.5,-2.5],[161.2,-0.6],[163.0,-3.8],[164.7,-7.5],[166.5,-9.4],[168.2,-9.4],[170.9,-8.1],[173.5,-3.8],[176.2,-0.9],[178.8,2.8],[180.6,-3.1],[182.3,-10],[185.0,-10.6],[188.5,-12.5],[191.1,-13.8],[193.7,-12.5],[195.5,-6.2],[197.2,-1.9],[199.0,-12.5],[200.8,-11.3],[203.4,-10.6],[206.0,-10],[208.7,-11.9],[211.3,-13.1],[213.9,-11.9],[216.6,-10],[219.2,-8.8],[221.9,-5],[223.6,-1.9],[225.4,-4.4],[227.1,-1.6],[228.9,-4.4],[230.7,-6.2],[232.4,-4.4],[234.2,-7.5],[235.9,-10.6],[237.7,-9.4],[239.4,-6.9],[241.2,-1.9],[243.0,1.3],[244.7,2.8],[246.5,1.9],[248.2,0.9],[250.0,0.3],[251.7,0],[253.5,0.6],[255.3,1.3],[257.0,2.2],[258.8,0.6],[260.5,0.3],[262.3,0],[264.0,0.9],[265.8,1.3],[267.6,0.3],[269.3,1.3],[271.1,1.6],[272.8,2.2],[274.6,1.3],[276.4,1.9],[278.1,0.9],[279.9,1.3],[281.6,1.9],[283.4,0.6],[285.1,1.3],[286.9,3.1],[288.7,5],[290.4,4.1],[292.2,3.8],[293.9,3.4],[295.7,4.4],[299.2,3.4],[302.7,3.8],[306.2,4.4],[309.8,5.6],[313.3,4.7],[316.8,4.1],[320.3,4.7],[323.8,4.4],[327.3,4.7],[330.9,5.3],[334.4,7.2],[337.9,5.3],[341.4,4.4],[344.9,3.8],[348.4,4.1],[352.0,3.4],[355.5,3.8],[359.0,3.1],[362.5,4.4],[364.3,3.4]];
const hornsund02 = [[0,2.8],[2.1,5.3],[5.6,5],[9.1,4.7],[11.8,4.1],[14.4,3.1],[16.2,1.9],[17.9,3.1],[20.6,3.8],[24.1,5],[27.6,5.3],[30.2,4.4],[32.9,2.5],[35.5,1.3],[38.2,1.3],[40.8,2.2],[43.4,2.8],[46.1,1.9],[48.7,0.6],[52.2,0.6],[54.0,-0.6],[56.6,-3.1],[59.2,-3.8],[61.9,-2.2],[64.5,-1.6],[67.2,-1.3],[70.7,-0.9],[75.1,-1.3],[77.7,-2.5],[81.2,-3.8],[84.7,-4.4],[88.3,-5.6],[90.0,-6.9],[91.8,-5],[95.3,-3.8],[98.8,-3.1],[102.3,-3.1],[105.8,-2.2],[109.4,-1.9],[112.0,-2.5],[114.6,-3.1],[118.1,-4.7],[121.7,-5.6],[125.2,-6.9],[128.7,-6.2],[132.2,-3.8],[134.8,-1.6],[137.5,-1.9],[141.0,-2.5],[144.5,-3.1],[148.0,-3.8],[151.5,-5],[154.2,-6.2],[156.8,-3.8],[160.3,-3.1],[163.9,-3.8],[165.6,-3.8],[169.1,-4.4],[172.7,-3.8],[176.2,-3.1],[179.7,-2.2],[182.3,-4.4],[185.0,-6.2],[188.5,-8.1],[192.0,-8.8],[195.5,-9.4],[198.1,-7.5],[200.8,-8.8],[204.3,-9.4],[207.8,-9.4],[211.3,-9.7],[214.8,-10],[218.3,-10],[221.9,-8.1],[225.4,-6.2],[228.9,-6.2],[232.4,-5.6],[235.9,-6.2],[239.4,-5.6],[243.0,-3.8],[246.5,-2.5],[250.0,-1.3],[257.0,-0.6],[264.0,-0.3],[267.6,-0.1],[271.1,1.3],[274.6,2.5],[278.1,5],[281.6,4.4],[285.1,4.7],[288.7,5.6],[292.2,6.2],[295.7,6.6],[299.2,6.9],[302.7,7.2],[306.2,7.8],[308.0,8.1],[309.8,7.2],[313.3,5.6],[316.8,4.7],[320.3,7.5],[323.8,6.6],[327.3,5.9],[330.9,6.6],[334.4,6.9],[337.9,7.5],[341.4,7.2],[344.9,6.9],[348.4,6.9],[352.0,6.2],[355.5,5.9],[359.0,5],[364.3,4.7]];
const barentsburg075 = [[0,0.9],[5.6,0.9],[10.9,0.6],[16.2,0.5],[21.4,0.8],[26.7,1.3],[32.0,1.3],[35.5,0.6],[39.0,0.1],[70.7,0],[79.5,-0.3],[88.3,-0.6],[95.3,-1.6],[102.3,-2.5],[109.4,-2.2],[116.4,-3.1],[121.7,-3.8],[125.2,-4.1],[128.7,-3.8],[132.2,-2.8],[135.7,-1.6],[141.0,-1.6],[148.0,-1.9],[155.1,-2],[162.1,-2.2],[165.6,-2.3],[170.9,-2.4],[176.2,-2.5],[181.4,-3.1],[186.7,-4.4],[192.0,-5.6],[195.5,-6.9],[200.8,-6.9],[207.8,-7.2],[214.8,-7.5],[220.1,-7.8],[225.4,-6.9],[230.7,-6.2],[235.9,-6.2],[239.4,-5.9],[243.0,-5],[246.5,-4.4],[250.0,-3.8],[253.5,-3.4],[258.8,-2.5],[264.0,-2.2],[271.1,-2],[278.1,-1.6],[285.1,-1.4],[292.2,-0.9],[299.2,-0.8],[302.7,-0.6],[306.2,-0.1],[313.3,0],[320.3,0],[323.8,0.3],[327.3,0.9],[334.4,1.3],[341.4,1.6],[348.4,1.9],[355.5,1.6],[360.8,1.6],[364.3,1.4]];
const hornsund10 = -1.1;
const barentsburg10 = -2.0;

// ---------- layout / styling ----------
const FONT = 'Lato, "Open Sans", "DejaVu Sans", sans-serif';
const TOPS = [7, 227, 447, 666, 887];
const H = 208;
const COL = {
  air:'#000000', airH:'#9a9a9a',
  dbny:'#8a4f9e', bay:'#5fa39e',
  oas:'#21a33a', end:'#a366d9', unis:'#d9692b',
  brei:'#8cc63e', jans:'#dc3a6c',
  kl1:'#9c9cf5', kl2:'#c9c31f',
  bar:'#9c9a2c', hor:'#e0346a'
};
const TXT = {
  dbny:'#8e5aa2', bay:'#64a7a2', oas:'#27a73e', end:'#a46ad8', unis:'#d96c2e',
  brei:'#8cc63e', jans:'#d93a6a', kl1:'#9d9df3', kl2:'#c6c022', bar:'#9a982e', hor:'#dc346a'
};

const panels = [
  { title:'A. Ny-Ålesund', airLabel:'Air (Ny-Ålesund)',
    deep:[[dbNy10,COL.dbny],[bayelva9,COL.bay]],
    lines:[[airNyAlesund,COL.air],[dbNy03,COL.dbny],[bayelva05,COL.bay]],
    leftBoxEnd:200, rightBoxStart:623,
    legends:[
      {cx:135, title:'DBNyÅlesund', color:TXT.dbny, line:COL.dbny, sx:78, tx:102, rows:['0.3 m (-3.1 °C)','10 m (-3.0 °C)']},
      {cx:687, title:'Bayelva', color:TXT.bay, line:COL.bay, sx:630, tx:655, rows:['0.5 m (-2.9 °C)','9 m (-2.6 °C)']}
    ]},
  { title:'B. Lower Adventdalen', airLabel:'Air (Svalbard Airport)',
    deep:[[endalen10,COL.end],[unis10,COL.unis],[oas99,COL.oas]],
    lines:[[airSvalbard,COL.air],[endalen03,COL.end],[unis025,COL.unis],[oas025,COL.oas]],
    leftBoxEnd:220, rightBoxStart:497,
    legends:[
      {cx:143, title:'Old Auroral Station 2', titleDy:-10, color:TXT.oas, line:COL.oas, sx:78, tx:102, rows:['0.25 m (-2.5 °C)','9.9 m (-5.1 °C)']},
      {cx:558, title:'Endalen', color:TXT.end, line:COL.end, sx:500, tx:525, rows:['0.3 m (-0.3 °C)','10 m (-1.8 °C)']},
      {cx:686, title:'UNIS East', color:TXT.unis, line:COL.unis, sx:625, tx:649, rows:['0.25 m (-1.9 °C)','10 m (-3.6 °C)']}
    ]},
  { title:'C. Inner Adventdalen', airLabel:'Air (Janssonhaugen)',
    deep:[[jansson10,COL.jans],[breinosa10,COL.brei]],
    lines:[[airJansson,COL.air],[breinosa025,COL.brei],[jansson02,COL.jans]],
    leftBoxEnd:207, rightBoxStart:603,
    legends:[
      {cx:138, title:'Breinosa', color:TXT.brei, line:COL.brei, sx:78, tx:102, rows:['0.25 m (-4.0 °C)','10 m (-5.1 °C)']},
      {cx:678, title:'Janssonhaugen (P11)', color:TXT.jans, line:COL.jans, sx:613, tx:635, rows:['0.2 m (-3.3 °C)','10 m (-4.1 °C)']}
    ]},
  { title:'D. Kapp Linne', airLabel:'Air (Kapp Linne)',
    deep:[[kappLinne2_10,COL.kl2],[kappLinne1_10,COL.kl1]],
    lines:[[airKappLinne,COL.air],[kappLinne2_025,COL.kl2],[kappLinne1_025,COL.kl1]],
    leftBoxEnd:207, rightBoxStart:615,
    legends:[
      {cx:138, title:'Kapp Linne 1', color:TXT.kl1, line:COL.kl1, sx:78, tx:102, rows:['0.25 m (-1.5 °C)','10 m (-2.2 °C)']},
      {cx:683, title:'Kapp Linne 2', color:TXT.kl2, line:COL.kl2, sx:623, tx:647, rows:['0.25 m (-1.6 °C)','10 m (-2.1 °C)']}
    ]},
  { title:'E. Barentsburg & Hornsund', airLabel:'Air (Barentsburg)',
    deep:[[hornsund10,COL.hor],[barentsburg10,COL.bar]],
    lines:[[airBarentsburg,COL.air],[airHornsund,COL.airH],[barentsburg075,COL.bar],[hornsund02,COL.hor]],
    leftBoxEnd:207, rightBoxStart:623,
    legends:[
      {cx:139, title:'Barentsburg', color:TXT.bar, line:COL.bar, sx:78, tx:102, rows:['0.75 m (-1.7 °C)','10 m (-2.0 °C)']},
      {cx:687, title:'Hornsund', color:TXT.hor, line:COL.hor, sx:630, tx:655, rows:['0.2 m (-0.7 °C)','10 m (-1.1 °C)']}
    ]}
];

const grids=[], xAxes=[], yAxes=[], series=[], graphics=[];
const axisCol = '#222';
panels.forEach((p, i) => {
  grids.push({left:66, right:24, top:TOPS[i], height:H, show:true, borderColor:axisCol, borderWidth:1.5, backgroundColor:'transparent', containLabel:false, outerBoundsMode:'none'});
  xAxes.push({type:'value', gridIndex:i, min:0, max:365,
    axisLine:{show:true, onZero:false, lineStyle:{color:axisCol, width:1.5}},
    axisTick:{show:true, inside:false, length:6, customValues:X_TICK_DAYS, lineStyle:{color:axisCol, width:1.5}},
    axisLabel:{show:i===4, customValues:X_LABEL_DAYS, formatter:(v)=>{const k=X_LABEL_DAYS.indexOf(v);return k>=0?X_LABELS[k]:'';}, fontFamily:FONT, fontWeight:'bold', fontSize:15, color:'#111', margin:8},
    splitLine:{show:false}});
  yAxes.push({type:'value', gridIndex:i, min:-24, max:15,
    axisLine:{show:true, onZero:false, lineStyle:{color:axisCol, width:1.5}},
    axisTick:{show:true, inside:false, length:5, customValues:Y_TICKS, lineStyle:{color:axisCol, width:1.5}},
    axisLabel:{customValues:Y_LABELS, fontFamily:FONT, fontWeight:'bold', fontSize:15, color:'#111', margin:12},
    splitLine:{show:false}});
  // gridlines
  series.push({type:'line', xAxisIndex:i, yAxisIndex:i, data:[], z:0, silent:true, animation:false,
    markLine:{silent:true, animation:false, symbol:['none','none'], label:{show:false},
      data: GRID_LINES.map(v=>({yAxis:v, lineStyle:{color:'#c9c9c9', width:1.5, type:'solid'}}))
        .concat([{yAxis:0, lineStyle:{color:'#000', width:1.3, type:[1.5,2.2]}}])}});
  p.deep.forEach(([v,c]) => {
    series.push({type:'line', xAxisIndex:i, yAxisIndex:i, data:[[0,v],[362,v]], symbol:'none', silent:true, animation:false, z:2,
      lineStyle:{color:c, width:1.6, type:[7,5]}});
  });
  p.lines.forEach(([d,c]) => {
    series.push({type:'line', xAxisIndex:i, yAxisIndex:i, data:d, symbol:'none', showSymbol:false, silent:true, animation:false, z:3,
      lineStyle:{color:c, width:1.5}});
  });
  const T = TOPS[i];
  // white legend boxes covering gridlines
  graphics.push({type:'rect', z:1, silent:true, shape:{x:67.5, y:T+121, width:p.leftBoxEnd-67.5, height:85.5}, style:{fill:'#fff'}});
  graphics.push({type:'rect', z:1, silent:true, shape:{x:p.rightBoxStart, y:T+121, width:752-p.rightBoxStart, height:85.5}, style:{fill:'#fff'}});
  // panel title
  graphics.push({type:'text', z:10, silent:true, style:{text:p.title, x:72, y:T+14.5, fill:'#111', font:'bold 15px '+FONT, textAlign:'left', textVerticalAlign:'middle'}});
  // legends
  p.legends.forEach(L => {
    graphics.push({type:'text', z:10, silent:true, style:{text:L.title, x:L.cx, y:T+143+(L.titleDy||0), fill:L.color, font:'bold 14px '+FONT, textAlign:'center', textVerticalAlign:'middle'}});
    graphics.push({type:'line', z:10, silent:true, shape:{x1:L.sx, y1:T+166, x2:L.sx+16, y2:T+166}, style:{stroke:L.line, lineWidth:1.6}});
    graphics.push({type:'text', z:10, silent:true, style:{text:L.rows[0], x:L.tx, y:T+166, fill:L.color, font:'bold 14px '+FONT, textAlign:'left', textVerticalAlign:'middle'}});
    graphics.push({type:'line', z:10, silent:true, shape:{x1:L.sx, y1:T+187, x2:L.sx+16, y2:T+187}, style:{stroke:L.line, lineWidth:1.6, lineDash:[4,8]}});
    graphics.push({type:'text', z:10, silent:true, style:{text:L.rows[1], x:L.tx, y:T+187, fill:L.color, font:'bold 14px '+FONT, textAlign:'left', textVerticalAlign:'middle'}});
  });
  // air annotation + arrow
  graphics.push({type:'text', z:10, silent:true, style:{text:p.airLabel, x:399, y:T+40, fill:'#111', font:'bold 14px '+FONT, textAlign:'left', textVerticalAlign:'middle'}});
  addArrow(423, T+50, 409, T+64, '#111');
});
// Hornsund air annotation (panel E)
graphics.push({type:'text', z:10, silent:true, style:{text:'Air (Hornsund)', x:293, y:TOPS[4]+42, fill:'#8f8f8f', font:'bold 14px '+FONT, textAlign:'left', textVerticalAlign:'middle'}});
addArrow(342, TOPS[4]+55, 328, TOPS[4]+67, '#8f8f8f');
// y axis title
graphics.push({type:'text', z:10, silent:true, x:18, y:556, rotation:Math.PI/2, style:{text:'Temperature (°C)', x:0, y:0, fill:'#111', font:'bold 17px '+FONT, textAlign:'center', textVerticalAlign:'middle'}});

function addArrow(x1,y1,x2,y2,col){
  const dx=x2-x1, dy=y2-y1, len=Math.hypot(dx,dy), ux=dx/len, uy=dy/len;
  const hl=7, hw=3.5;
  const bx=x2-ux*hl, by=y2-uy*hl;
  graphics.push({type:'line', z:10, silent:true, shape:{x1, y1, x2:bx, y2:by}, style:{stroke:col, lineWidth:1.6}});
  graphics.push({type:'polygon', z:10, silent:true, shape:{points:[[x2,y2],[bx-uy*hw,by+ux*hw],[bx+uy*hw,by-ux*hw]]}, style:{fill:col}});
}

const chart = echarts.init(document.getElementById('c'), null, {renderer:'canvas'});
chart.setOption({
  backgroundColor:'#fff', animation:false,
  grid:grids, xAxis:xAxes, yAxis:yAxes, series:series, graphic:graphics
});
</script></body></html>
